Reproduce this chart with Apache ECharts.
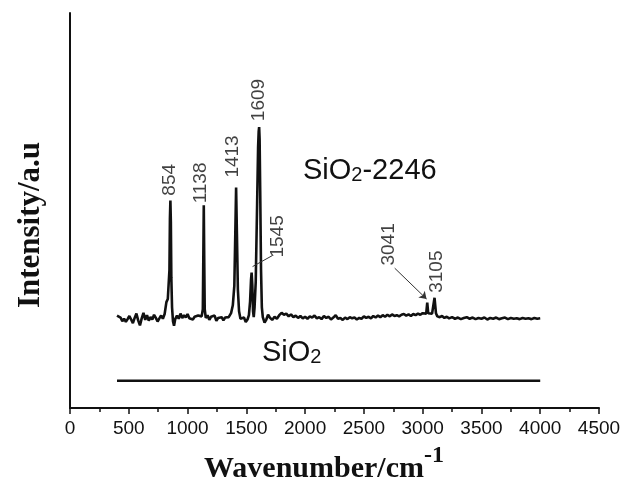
<!DOCTYPE html>
<html>
<head>
<meta charset="utf-8">
<script src="https://cdn.jsdelivr.net/npm/echarts@6/dist/echarts.min.js"></script>
<style>
  html, body { margin: 0; padding: 0; background: #fff; }
  #chart { width: 624px; height: 495px; }
</style>
</head>
<body>
<div id="chart"></div>
<script>
// Raman spectrum of the functionalised silica (wavenumber, intensity a.u.)
var waveModified = [
  400, 415, 430, 445, 460, 475, 490, 505, 520, 535, 550, 565, 580, 595, 610, 625, 640, 655, 670, 685,
  700, 715, 730, 745, 760, 775, 790, 805, 820, 832, 840, 846, 850, 854, 858, 862, 868, 876, 885, 895,
  910, 925, 940, 955, 970, 985, 1000, 1015, 1030, 1045, 1060, 1075, 1090, 1105, 1120, 1130, 1134, 1138, 1142, 1146,
  1155, 1170, 1185, 1200, 1215, 1230, 1245, 1260, 1275, 1290, 1305, 1320, 1335, 1350, 1370, 1385, 1398, 1406, 1413, 1420,
  1428, 1438, 1450, 1465, 1480, 1495, 1510, 1522, 1532, 1540, 1545, 1551, 1557, 1563, 1570, 1580, 1592, 1600, 1605, 1609,
  1613, 1618, 1625, 1632, 1640, 1655, 1670, 1685, 1700, 1720, 1740, 1760, 1780, 1800, 1820, 1840, 1860, 1880, 1900, 1920,
  1940, 1960, 1980, 2000, 2020, 2040, 2060, 2080, 2100, 2120, 2140, 2160, 2180, 2200, 2220, 2240, 2260, 2280, 2300, 2320,
  2340, 2360, 2380, 2400, 2420, 2440, 2460, 2480, 2500, 2520, 2540, 2560, 2580, 2600, 2620, 2640, 2660, 2680, 2700, 2720,
  2740, 2760, 2780, 2800, 2820, 2840, 2860, 2880, 2900, 2920, 2940, 2960, 2980, 3000, 3015, 3030, 3036, 3039, 3043, 3047,
  3060, 3080, 3096, 3101, 3105, 3109, 3113, 3125, 3145, 3165, 3185, 3205, 3225, 3250, 3275, 3300, 3325, 3350, 3375, 3400,
  3425, 3450, 3475, 3500, 3525, 3550, 3575, 3600, 3625, 3650, 3675, 3700, 3725, 3750, 3775, 3800, 3825, 3850, 3875, 3900,
  3925, 3950, 3975, 4000
];
var intensityModified = [
  23.4, 23.8, 22.9, 22.0, 22.6, 21.8, 22.5, 23.3, 22.4, 21.5, 22.8, 23.9, 22.2, 20.9, 22.7, 24.1, 22.3, 23.5, 22.1, 23.0,
  22.4, 23.6, 22.8, 21.9, 22.7, 23.4, 22.6, 23.8, 26.8, 27.6, 28.0, 35.0, 48.0, 52.5, 47.0, 33.0, 25.5, 22.0, 20.8, 22.5,
  23.4, 22.6, 23.9, 22.8, 23.5, 22.9, 23.8, 22.7, 23.2, 22.4, 23.1, 22.6, 23.4, 22.9, 23.2, 25.0, 38.0, 51.3, 37.0, 25.0,
  22.8, 23.5, 22.3, 23.1, 22.6, 23.4, 22.1, 22.8, 22.4, 23.0, 22.2, 22.9, 23.4, 23.0, 24.0, 26.0, 31.0, 44.0, 55.8, 44.0,
  30.0, 24.5, 22.6, 22.2, 22.9, 21.8, 22.4, 23.5, 27.0, 32.5, 34.3, 31.0, 24.5, 23.0, 25.5, 32.0, 52.0, 66.0, 70.0, 71.1,
  68.0, 55.0, 35.0, 25.5, 23.0, 21.6, 22.4, 23.6, 22.9, 22.3, 23.1, 22.6, 23.5, 24.1, 23.6, 23.9, 23.2, 23.7, 23.0, 23.4,
  22.8, 23.3, 22.7, 23.1, 22.6, 23.2, 22.9, 23.4, 22.7, 23.0, 22.5, 23.3, 22.8, 23.1, 22.4, 22.9, 23.5, 22.6, 22.8, 22.3,
  22.9, 22.5, 23.0, 22.7, 22.9, 22.4, 22.8, 22.6, 23.2, 22.8, 23.1, 22.7, 23.3, 22.9, 23.4, 23.0, 23.5, 23.1, 23.6, 23.2,
  23.7, 23.3, 23.5, 23.2, 23.6, 23.8, 23.4, 23.7, 23.3, 23.8, 23.5, 23.9, 23.6, 24.0, 23.8, 23.9, 24.2, 26.7, 26.7, 24.0,
  23.6, 23.9, 24.3, 27.9, 27.9, 27.9, 24.0, 23.2, 23.0, 23.3, 22.8, 23.1, 22.7, 23.0, 22.6, 22.9, 22.5, 22.8, 23.0, 22.6,
  22.9, 22.5, 22.8, 22.6, 22.9, 22.4, 22.8, 22.6, 22.9, 22.5, 22.7, 22.9, 22.5, 22.8, 22.6, 22.7, 22.5, 22.8, 22.6, 22.7,
  22.5, 22.8, 22.6, 22.7
];

// Bare silica: flat response over the same range
var waveSilica = [400, 1000, 1600, 2200, 2800, 3400, 4000];
var intensitySilica = [6.9, 6.9, 6.9, 6.9, 6.9, 6.9, 6.9];

// Assigned band positions and the peak heights they label
var bandWave = [854, 1138, 1413, 1609, 1545, 3041, 3105];
var bandHeight = [52.5, 51.3, 55.8, 71.1, 34.3, 26.7, 27.9];

// Axis ticks
var xTicks = [0, 500, 1000, 1500, 2000, 2500, 3000, 3500, 4000, 4500];

function pairs(xs, ys) {
  return xs.map(function (x, i) { return [x, ys[i]]; });
}

// Label offsets in the rotated text frame: [up, right] in pixels from the peak top
var bandOffsets = {
  854: [3, -1], 1138: [0, -3], 1413: [8, -3], 1609: [4, 0],
  1545: [13, 26], 3041: [35, -39], 3105: [3, 2]
};

var bandData = bandWave.map(function (w, i) {
  return {
    value: [w, bandHeight[i]],
    label: { offset: bandOffsets[w] }
  };
});

var SANS = 'Liberation Sans, Arial, sans-serif';
var SERIF = 'Liberation Serif, Times New Roman, serif';

var chart = echarts.init(document.getElementById('chart'), null, { renderer: 'canvas' });

var option = {
  animation: false,
  backgroundColor: '#ffffff',
  grid: { left: 70, right: 25, top: 13, bottom: 87, containLabel: false },
  xAxis: {
    type: 'value',
    min: xTicks[0],
    max: xTicks[xTicks.length - 1],
    interval: 500,
    axisLine: { show: true, lineStyle: { color: '#111', width: 2 } },
    axisTick: { show: true, length: 6, lineStyle: { color: '#111', width: 1.5 } },
    minorTick: { show: true, splitNumber: 2, length: 4, lineStyle: { color: '#111', width: 1.5 } },
    axisLabel: {
      color: '#111', fontSize: 19, fontFamily: SANS, margin: 11,
      formatter: function (v) { return String(v); }
    },
    splitLine: { show: false }
  },
  yAxis: {
    type: 'value',
    min: 0,
    max: 100,
    axisLine: { show: true, onZero: false, lineStyle: { color: '#111', width: 2 } },
    axisTick: { show: false },
    axisLabel: { show: false },
    splitLine: { show: false }
  },
  series: [
    {
      name: 'SiO2-2246',
      type: 'line',
      data: pairs(waveModified, intensityModified),
      showSymbol: false,
      lineStyle: { color: '#111', width: 2.6 },
      z: 3,
      markLine: {
        silent: true,
        animation: false,
        label: { show: false },
        lineStyle: { color: '#333', width: 1, type: 'solid' },
        symbol: ['none', 'none'],
        data: [
          [{ coord: [1553, 35.8] }, { coord: [1722, 38.6] }],
          [{ coord: [2762, 35.4], symbol: 'none' }, { coord: [3033, 27.6], symbol: 'arrow', symbolSize: 7 }]
        ]
      }
    },
    {
      name: 'SiO2',
      type: 'line',
      data: pairs(waveSilica, intensitySilica),
      showSymbol: false,
      lineStyle: { color: '#111', width: 2.6 },
      z: 3
    },
    {
      name: 'bands',
      type: 'scatter',
      data: bandData,
      symbolSize: 0,
      silent: true,
      z: 4,
      label: {
        show: true,
        position: 'top',
        distance: 2,
        rotate: 90,
        align: 'left',
        verticalAlign: 'middle',
        color: '#111',
        fontSize: 19,
        fontFamily: SANS,
        formatter: function (p) { return String(p.value[0]); }
      }
    }
  ],
  graphic: [
    {
      // x-axis title with a raised superscript
      type: 'text',
      left: 204,
      top: 444,
      style: {
        text: '{t|Wavenumber/cm}{s|-1}',
        rich: {
          t: { fontFamily: SERIF, fontWeight: 'bold', fontSize: 30, lineHeight: 40, fill: '#111', verticalAlign: 'bottom' },
          s: { fontFamily: SERIF, fontWeight: 'bold', fontSize: 24, lineHeight: 24, fill: '#111', verticalAlign: 'top' }
        }
      }
    },
    {
      // y-axis title, rotated
      type: 'text',
      x: 31,
      y: 225,
      rotation: Math.PI / 2,
      style: {
        text: 'Intensity/a.u',
        fontFamily: SERIF,
        fontWeight: 'bold',
        fontSize: 31,
        fill: '#111',
        align: 'center',
        verticalAlign: 'middle'
      }
    },
    {
      type: 'text',
      left: 303,
      top: 156,
      style: {
        text: '{a|SiO}{b|2}{a|-2246}',
        rich: {
          a: { fontFamily: SANS, fontSize: 29, fill: '#111' },
          b: { fontFamily: SANS, fontSize: 20, fill: '#111', verticalAlign: 'bottom' }
        }
      }
    },
    {
      type: 'text',
      left: 262,
      top: 338,
      style: {
        text: '{a|SiO}{b|2}',
        rich: {
          a: { fontFamily: SANS, fontSize: 29, fill: '#111' },
          b: { fontFamily: SANS, fontSize: 20, fill: '#111', verticalAlign: 'bottom' }
        }
      }
    }
  ]
};

chart.setOption(option);
</script>
</body>
</html>
